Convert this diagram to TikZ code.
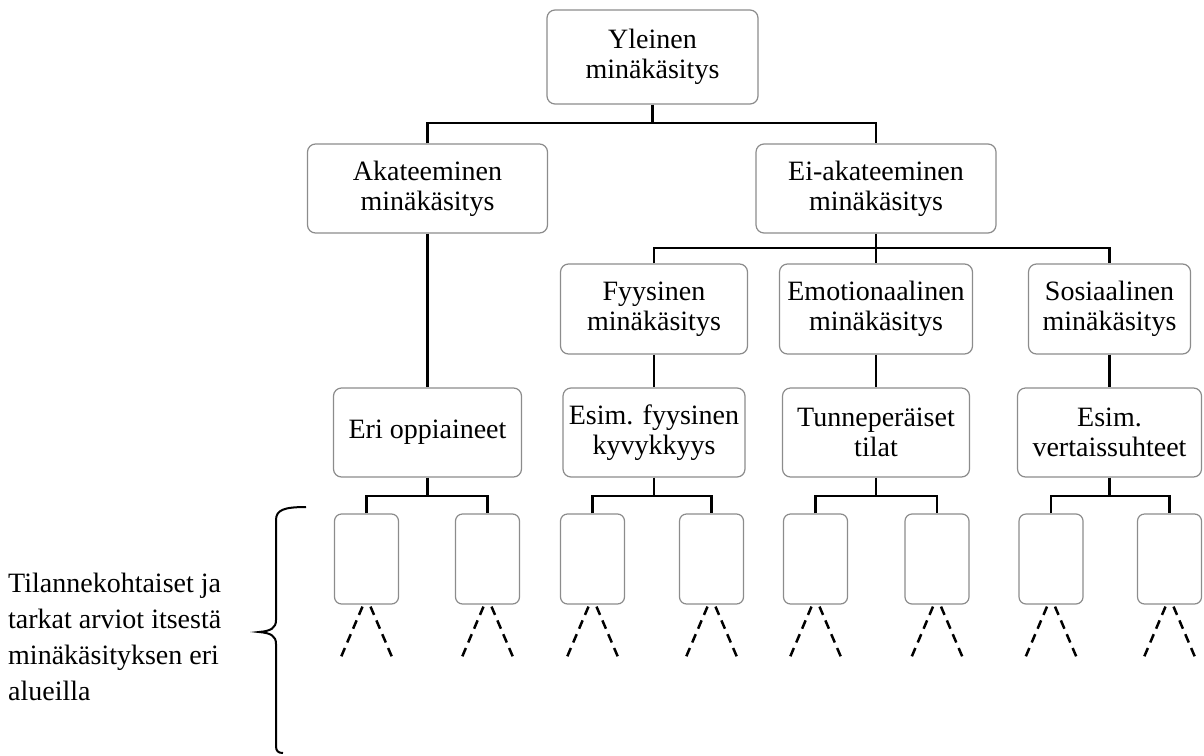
\documentclass[tikz,border=0pt]{standalone}
\usepackage{fontspec}
\setmainfont{Liberation Serif}
\begin{document}
\begin{tikzpicture}[x=1pt,y=-1pt,
  box/.style={draw=black!45, line width=1.2pt, rounded corners=8pt, align=center, inner sep=0pt, fill=white, font=\fontsize{28}{30}\selectfont},
  leaf/.style={draw=black!45, line width=1.2pt, rounded corners=7pt, minimum width=64pt, minimum height=90pt, inner sep=0pt},
  conn/.style={line width=2.4pt},
  dline/.style={line width=2.5pt, dash pattern=on 9pt off 6pt}]
\useasboundingbox (0,0) rectangle (1204,755);
% main boxes
\node[box, minimum width=211pt, minimum height=94pt] (top) at (652.5,57) {Yleinen\\minäkäsitys};
\node[box, minimum width=240pt, minimum height=89pt] (aka) at (427.5,188.5) {Akateeminen\\minäkäsitys};
\node[box, minimum width=240pt, minimum height=89pt] (eia) at (876,188.5) {Ei-akateeminen\\minäkäsitys};
\node[box, minimum width=187pt, minimum height=90pt] (fyy) at (654,309) {Fyysinen\\minäkäsitys};
\node[box, minimum width=193pt, minimum height=90pt] (emo) at (876,309) {Emotionaalinen\\minäkäsitys};
\node[box, minimum width=162pt, minimum height=90pt] (sos) at (1109.5,309) {Sosiaalinen\\minäkäsitys};
\node[box, minimum width=188pt, minimum height=89pt] (eri) at (427.5,432.5) {Eri oppiaineet};
\node[box, minimum width=182pt, minimum height=89pt] (esf) at (654,432.5) {Esim. fyysinen\\kyvykkyys};
\node[box, minimum width=187pt, minimum height=89pt] (tun) at (876,432.5) {Tunneperäiset\\tilat};
\node[box, minimum width=184pt, minimum height=89pt] (ver) at (1109.5,432.5) {Esim.\\vertaissuhteet};
% leaves
\node[leaf] (l1a) at (366.5,559) {};
\node[leaf] (l1b) at (487.5,559) {};
\node[leaf] (l2a) at (592.5,559) {};
\node[leaf] (l2b) at (711.5,559) {};
\node[leaf] (l3a) at (815.5,559) {};
\node[leaf] (l3b) at (937,559) {};
\node[leaf] (l4a) at (1051,559) {};
\node[leaf] (l4b) at (1169.5,559) {};
% junctions
\coordinate (j0) at (652.5,123);
\coordinate (j1) at (876,248);
\coordinate (k1) at (427.5,496);
\coordinate (k2) at (654,496);
\coordinate (k3) at (876,496);
\coordinate (k4) at (1109.5,496);
% connectors
\draw[conn] (top.south) -- (j0);
\draw[conn] (aka.north) |- (j0) -| (eia.north);
\draw[conn] (aka.south) -- (eri.north);
\draw[conn] (eia.south) -- (j1);
\draw[conn] (fyy.north) |- (j1) -| (sos.north);
\draw[conn] (j1) -- (emo.north);
\draw[conn] (fyy.south) -- (esf.north);
\draw[conn] (emo.south) -- (tun.north);
\draw[conn] (sos.south) -- (ver.north);
\draw[conn] (eri.south) -- (k1);
\draw[conn] (l1a.north) |- (k1) -| (l1b.north);
\draw[conn] (esf.south) -- (k2);
\draw[conn] (l2a.north) |- (k2) -| (l2b.north);
\draw[conn] (tun.south) -- (k3);
\draw[conn] (l3a.north) |- (k3) -| (l3b.north);
\draw[conn] (ver.south) -- (k4);
\draw[conn] (l4a.north) |- (k4) -| (l4b.north);
% dashed continuations
\foreach \n in {l1a,l1b,l2a,l2b,l3a,l3b,l4a,l4b}{
  \draw[dline] ([xshift=-4pt,yshift=-2pt]\n.south) -- ++(-23,54);
  \draw[dline] ([xshift=4pt,yshift=-2pt]\n.south) -- ++(23,54);
}
% brace
\draw[line width=2pt] (306,507) .. controls (284,507) and (276,510) .. (276,520) -- (276,620) .. controls (276,628) and (271,631) .. (259,632) .. controls (271,633) and (276,636) .. (276,644) -- (276,746) .. controls (276,751) and (278,753) .. (283,753);
% label
\node[anchor=west, align=left, inner sep=0pt, font=\fontsize{28}{36}\selectfont] (lbl) at (8,637) {Tilannekohtaiset ja\\tarkat arviot itsestä\\minäkäsityksen eri\\alueilla};
\end{tikzpicture}
\end{document}
